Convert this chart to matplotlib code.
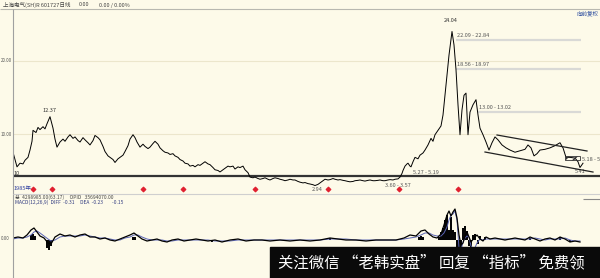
import matplotlib
matplotlib.use("Agg")
import matplotlib.pyplot as plt
from matplotlib.patches import Rectangle

plt.rcParams['font.family'] = ['Noto Sans CJK SC', 'DejaVu Sans']

W, H = 600, 278
BG = '#fdfae9'

# ---------------- data ----------------
title_name = "上海电气(SH)R 601727日线"
title_vals = "0.00"
title_chg = "0.00 / 0.00%"
adjust_label = "向前复权"
year_label = "1985年"
axis_labels = ["20.00", "10.00"]
axis_values = [20.0, 10.0]

price_x = [13, 15, 17, 20, 23, 25, 28, 30, 32, 33,
           36, 38, 40, 43, 45, 47, 50, 53, 55, 57,
           60, 63, 65, 68, 70, 73, 75, 78, 80, 83,
           85, 88, 90, 93, 95, 98, 100, 103, 105, 108,
           110, 113, 115, 118, 120, 123, 125, 128, 130, 133,
           135, 137, 140, 143, 145, 148, 150, 153, 155, 158,
           160, 163, 165, 168, 170, 173, 175, 178, 180, 183,
           185, 188, 190, 193, 195, 198, 200, 203, 205, 208,
           210, 213, 215, 218, 220, 223, 225, 228, 230, 233,
           235, 238, 240, 243, 245, 248, 250, 253, 255, 258,
           260, 263, 265, 268, 270, 273, 275, 278, 280, 283,
           285, 288, 290, 293, 295, 298, 300, 303, 305, 308,
           310, 313, 315, 318, 320, 323, 325, 328, 330, 333,
           335, 338, 340, 343, 345, 348, 350, 353, 355, 358,
           360, 363, 365, 368, 370, 373, 375, 378, 380, 383,
           385, 388, 390, 393, 395, 398, 400, 402, 403, 405,
           407, 408, 410, 411, 413, 415, 418, 420, 423, 425,
           428, 431, 433, 435, 438, 441, 443, 445, 447, 449,
           451, 452, 454, 456, 458, 460, 462, 464, 466, 468,
           470, 473, 476, 478, 480, 483, 486, 489, 492, 495,
           498, 502, 506, 510, 515, 520, 525, 528, 531, 534,
           537, 540, 545, 550, 555, 560, 563, 566, 570, 575,
           578, 580, 583]
price_y = [7.5, 6.5, 5.5, 6.0, 5.9, 6.4, 6.8, 7.8, 9.0, 10.5,
           10.2, 10.9, 10.6, 11.0, 10.7, 11.4, 12.37, 10.8, 9.3, 8.2,
           8.9, 9.3, 9.0, 9.6, 9.9, 9.4, 9.6, 9.1, 8.9, 9.5,
           9.2, 8.8, 8.5, 9.1, 9.8, 9.5, 9.2, 8.3, 7.6, 7.0,
           6.8, 6.5, 6.1, 6.6, 6.8, 7.1, 7.6, 8.4, 9.3, 9.9,
           9.5, 8.9, 8.2, 8.6, 8.3, 8.0, 8.2, 8.7, 9.0, 8.6,
           8.1, 7.7, 7.5, 7.4, 7.2, 7.3, 7.0, 6.8, 6.5, 6.3,
           6.0, 5.9, 5.6, 5.7, 5.5, 5.8, 5.7, 6.0, 6.2, 5.9,
           5.8, 5.4, 5.1, 5.0, 4.8, 5.1, 5.3, 5.6, 5.5, 5.6,
           5.2, 5.5, 5.4, 5.6, 5.1, 4.7, 4.1, 4.0, 4.1, 3.9,
           3.8, 3.9, 4.0, 3.8, 3.7, 3.9, 4.0, 3.9, 3.8, 3.7,
           3.6, 3.7, 3.8, 3.7, 3.7, 3.5, 3.4, 3.3, 3.35, 3.2,
           3.15, 3.05, 2.94, 3.1, 3.3, 3.6, 3.8, 3.7, 3.75, 3.9,
           3.8, 3.7, 3.75, 3.65, 3.6, 3.5, 3.45, 3.5, 3.6, 3.65,
           3.7, 3.6, 3.55, 3.65, 3.7, 3.6, 3.6, 3.65, 3.7, 3.6,
           3.6, 3.7, 3.75, 3.7, 3.8, 3.85, 4.1, 4.6, 5.0, 5.6,
           5.9, 6.0, 5.6, 5.5, 6.2, 6.8, 6.6, 7.1, 7.4, 7.8,
           8.5, 9.4, 9.0, 9.9, 10.5, 11.1, 12.6, 15.3, 18.1, 20.8,
           22.9, 24.04, 22.2, 18.8, 14.0, 9.9, 13.3, 15.3, 15.6, 9.9,
           13.0, 14.0, 14.7, 12.6, 10.8, 9.9, 8.9, 7.8, 8.8, 9.6,
           9.2, 8.5, 8.1, 7.8, 7.5, 7.7, 7.9, 8.5, 8.1, 7.0,
           7.3, 7.8, 7.9, 8.1, 8.4, 8.8, 8.1, 6.8, 6.8, 6.7,
           6.2, 5.41, 6.0]

support_level = 4.25
level_ranges = ["22.09 - 22.84", "18.56 - 18.97", "13.00 - 13.02"]
level_values = [22.84, 18.97, 13.02]
level_starts = [456, 456, 478]
level_end = 581

chan_upper_x = [497, 587]
chan_upper_y = [9.86, 7.67]
chan_lower_x = [485, 593]
chan_lower_y = [7.53, 4.79]

event_x = [33, 52, 143, 183, 255, 328, 399, 458]
event_level = 2.47

macd_x = [13, 18, 23, 27, 31, 34, 37, 40, 44, 48,
          51, 55, 60, 65, 70, 75, 80, 85, 90, 95,
          100, 105, 110, 115, 120, 125, 130, 134, 138, 142,
          147, 152, 157, 162, 167, 172, 178, 184, 190, 196,
          202, 208, 215, 222, 230, 238, 246, 254, 262, 270,
          280, 290, 300, 310, 320, 330, 338, 346, 356, 366,
          376, 386, 396, 404, 410, 416, 421, 425, 429, 433,
          437, 441, 444, 447, 449, 451, 453, 455, 457, 459,
          461, 463, 465, 467, 469, 471, 474, 477, 480, 483,
          486, 490, 495, 500, 505, 510, 515, 520, 525, 530,
          535, 540, 545, 550, 555, 560, 565, 570, 575, 580]
diff_vals = [0.2, 0.3, 0.2, 0.5, 1.0, 1.2, 0.8, 0.4, 0.2, -0.3,
             -0.4, 0.3, 0.6, 0.4, 0.5, 0.3, 0.5, 0.6, 0.3, 0.3,
             0.1, 0.2, 0.0, -0.1, 0.1, 0.3, 0.5, 0.7, 0.4, 0.1,
             -0.1, 0.0, 0.1, -0.1, -0.2, 0.0, 0.1, -0.1, 0.0, 0.1,
             0.0, -0.1, 0.0, -0.2, 0.0, 0.1, -0.1, 0.0, 0.0, -0.1,
             0.0, -0.1, 0.0, -0.1, 0.0, 0.2, 0.1, 0.0, 0.0, -0.1,
             0.0, 0.0, 0.0, 0.2, 0.5, 0.4, 0.9, 1.0, 0.6, 0.3,
             0.2, 0.6, 1.5, 2.5, 2.9, 2.4, 2.8, 3.1, 2.2, 0.5,
             -0.5, -0.3, 0.4, 0.8, 0.3, -0.2, 0.2, 0.5, 0.1, -0.1,
             0.3, 0.1, 0.2, 0.1, 0.0, 0.1, 0.2, 0.1, 0.0, 0.3,
             0.1, -0.1, 0.1, 0.2, 0.0, 0.3, 0.1, -0.2, -0.1, -0.2]
dea_vals = [0.1, 0.2, 0.2, 0.3, 0.5, 0.8, 0.9, 0.7, 0.4, 0.1,
            -0.1, 0.0, 0.3, 0.4, 0.4, 0.4, 0.4, 0.5, 0.4, 0.3,
            0.2, 0.2, 0.1, 0.0, 0.0, 0.2, 0.3, 0.5, 0.5, 0.3,
            0.1, 0.0, 0.0, 0.0, -0.1, -0.1, 0.0, 0.0, 0.0, 0.0,
            0.0, 0.0, -0.1, -0.1, -0.1, 0.0, 0.0, 0.0, 0.0, 0.0,
            0.0, 0.0, 0.0, 0.0, 0.0, 0.1, 0.1, 0.1, 0.0, 0.0,
            0.0, 0.0, 0.0, 0.1, 0.2, 0.3, 0.5, 0.7, 0.7, 0.5,
            0.4, 0.4, 0.7, 1.3, 2.0, 2.5, 2.6, 2.9, 2.0, -0.8,
            -1.0, -0.2, 0.2, 0.4, 0.3, -0.6, -1.0, -0.3, 0.1, 0.0,
            0.1, 0.1, 0.1, 0.1, 0.1, 0.1, 0.1, 0.1, 0.1, 0.1,
            0.2, 0.1, 0.0, 0.1, 0.1, 0.1, 0.2, 0.0, -0.1, -0.1]
hist_x = [31, 33, 35, 47, 49, 51, 133, 135, 212, 330, 419, 421, 423,
          439, 441, 443, 445, 447, 449, 451, 453, 455, 457, 459, 461,
          463, 465, 467, 469, 471, 473, 475, 478, 480, 485, 530, 560, 570]
hist_vals = [0.5, 0.6, 0.4, -0.8, -1.0, -0.6, 0.3, 0.3, -0.2, 0.2, 0.3, 0.4, 0.3,
             0.3, 0.8, 1.2, 2.0, 2.5, 1.0, 2.3, 1.0, 0.8, -0.8, -1.0, -0.9,
             1.2, 1.4, 0.9, -0.6, -0.8, 0.5, 0.6, -0.4, 0.4, 0.3, 0.2, 0.3, -0.2]

info_line = "总  4298985.00(63.17)     OPID   35694070.00"
macd_line = "MACD(12,26,9)  DIFF  -0.31     DEA  -0.23        -0.15"
watermark = "关注微信 “老韩实盘” 回复 “指标” 免费领"

assert len(price_x) == len(price_y)
assert len(macd_x) == len(diff_vals) == len(dea_vals)
assert len(hist_x) == len(hist_vals)


def px_rect(x0, y0, x1, y1):
    return [x0 / W, 1 - y1 / H, (x1 - x0) / W, (y1 - y0) / H]


fig = plt.figure(figsize=(6, 2.78), dpi=100, facecolor=BG)

# ---------------- price panel ----------------
ax = fig.add_axes(px_rect(13, 9, 600, 194))
ax.set_xlim(13, 600)
ax.set_ylim(1.78, 27.12)
ax.set_facecolor('none')
ax.axis('off')

for v in axis_values:
    ax.axhline(v, color='#ece6cc', lw=0.8, zorder=1)
for lab, v, xs in zip(level_ranges, level_values, level_starts):
    ax.hlines(v, xs, level_end, color='#d9d9d6', lw=1.6, zorder=1)
    ax.text(xs + 1, v + 0.25, lab, fontsize=4, color='#555555', va='bottom', ha='left', zorder=3)

ax.axhline(support_level, color='#333333', lw=1.6, zorder=2)
ax.plot(price_x, price_y, color='black', lw=0.7, zorder=4)
ax.plot(chan_upper_x, chan_upper_y, color='#222222', lw=0.9, zorder=4)
ax.plot(chan_lower_x, chan_lower_y, color='#222222', lw=0.9, zorder=4)
ax.add_patch(Rectangle((565, 6.45), 15, 0.55, fill=False, ec='#333333', lw=0.6,
                       hatch='////', zorder=4))

ax.text(50, 13.15, "12.37", fontsize=4, color='#333333', ha='center', va='center')
ax.text(451, 25.5, "24.04", fontsize=4, color='#333333', ha='center', va='center')
ax.text(317, 2.33, "2.94", fontsize=4, color='#555555', ha='center', va='center')
ax.text(385, 3.0, "3.60 - 3.57", fontsize=4, color='#555555', ha='left', va='center')
ax.text(413, 4.66, "5.27 - 5.19", fontsize=4, color='#555555', ha='left', va='center')
ax.text(575, 4.93, "5.41", fontsize=4, color='#555555', ha='left', va='center')
ax.text(582, 6.5, "5.18 - 5", fontsize=4, color='#555555', ha='left', va='center')
ax.text(14, 4.6, "10", fontsize=4, color='#333333', ha='left', va='center')

ax.scatter(event_x, [event_level] * len(event_x), marker='D', s=5, color='#e02030', zorder=5)
ax.text(14, event_level, year_label, fontsize=4, color='#3040a0', ha='left', va='center')

# ---------------- MACD panel ----------------
mx = fig.add_axes(px_rect(13, 194, 600, 278))
mx.set_xlim(13, 600)
mx.set_ylim(-3.8, 4.6)
mx.set_facecolor('none')
mx.axis('off')
mx.vlines(hist_x, 0, hist_vals, color='black', lw=1.4, zorder=2)
mx.plot(macd_x, dea_vals, color='#5a64b4', lw=0.7, zorder=3)
mx.plot(macd_x, diff_vals, color='black', lw=0.9, zorder=4)

# ---------------- overlay (frame, text, watermark) ----------------
ov = fig.add_axes([0, 0, 1, 1])
ov.set_xlim(0, W)
ov.set_ylim(H, 0)
ov.axis('off')
ov.set_zorder(10)
ov.patch.set_visible(False)

ov.hlines(9, 0, W, color='#b8b8b0', lw=0.8)
ov.vlines(13, 9, H, color='#a0a0a0', lw=0.8)
ov.hlines(194, 13, W, color='#cfcfcf', lw=0.8)
ov.hlines(199, 583, W, color='#888888', lw=0.8)

ov.text(3, 5, title_name, fontsize=4, color='#444444', ha='left', va='center')
ov.text(79, 5, title_vals, fontsize=4, color='#444444', ha='left', va='center')
ov.text(99, 5, title_chg, fontsize=4, color='#444444', ha='left', va='center')
ov.text(598, 14, adjust_label, fontsize=4, color='#3050a0', ha='right', va='center')

for lab, v in zip(axis_labels, axis_values):
    ypx = 134 - (v - 10.0) * 7.3
    ov.text(0.5, ypx, lab, fontsize=3.2, color='#555555', ha='left', va='center')
ov.text(0.5, 238, "0.00", fontsize=3.2, color='#555555', ha='left', va='center')

ov.text(15, 197.5, info_line, fontsize=3.5, color='#444444', ha='left', va='center')
ov.text(15, 202.5, macd_line, fontsize=3.5, color='#303a80', ha='left', va='center')

ov.add_patch(Rectangle((270, 247), 330, 31, color='#0a0a0a', zorder=20))
ov.text(278, 263, watermark, fontsize=11.1, color='white', ha='left', va='center', zorder=21)

fig.savefig('out.png', dpi=100, facecolor=BG)
